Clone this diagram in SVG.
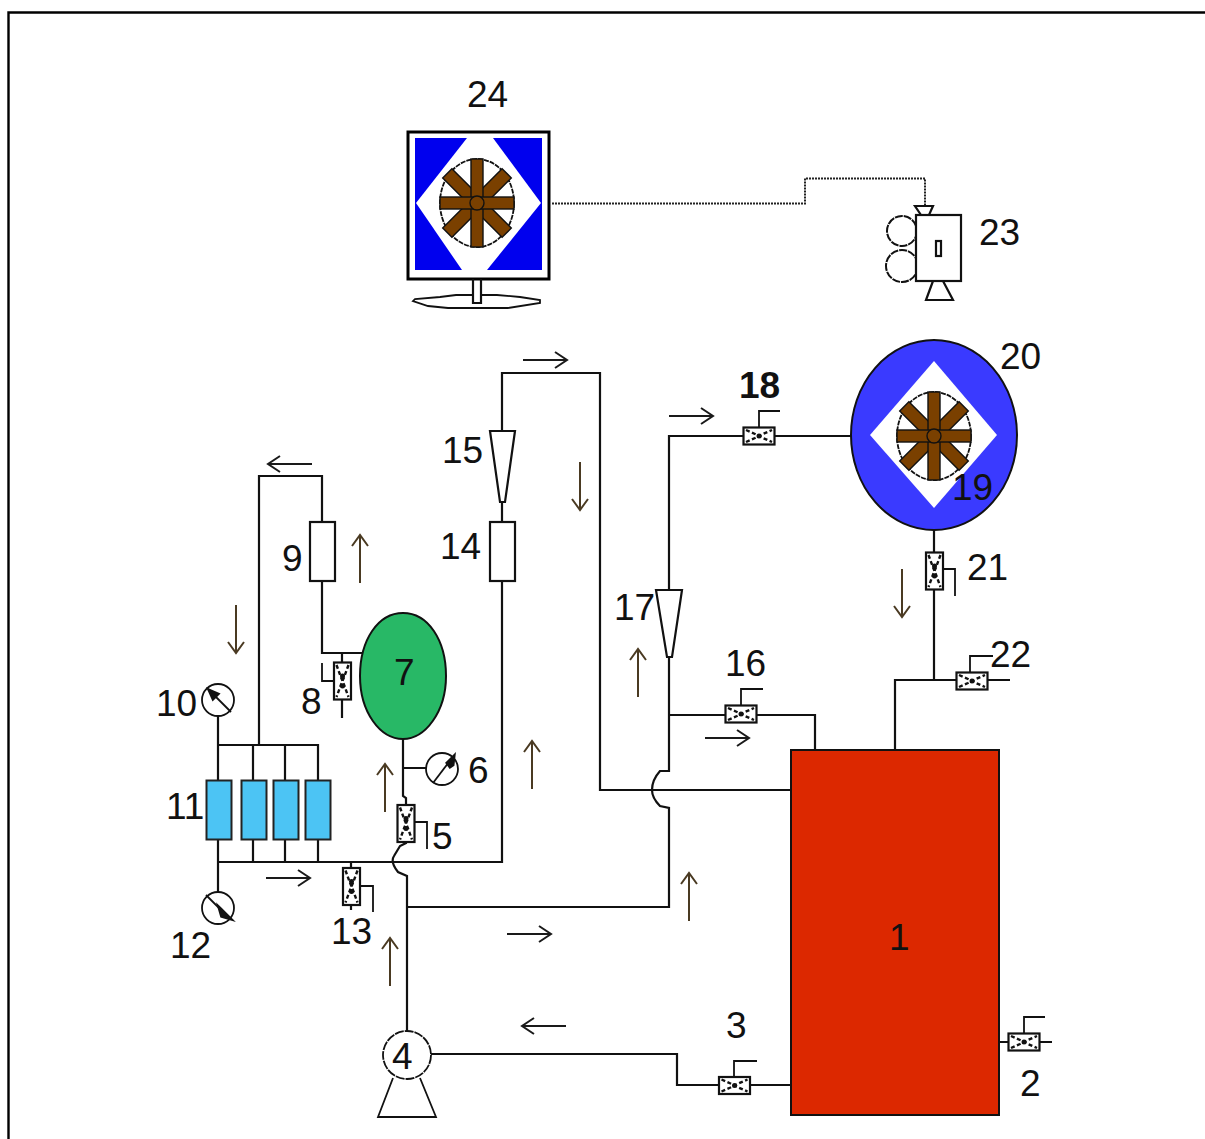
<svg xmlns="http://www.w3.org/2000/svg" width="1205" height="1139" viewBox="0 0 1205 1139">
<style>
.p{fill:none;stroke:#111;stroke-width:2.200}
.t{fill:none;stroke:#111;stroke-width:1.800}
.w{fill:#fff;stroke:#111;stroke-width:2.200}
.r{fill:#fff;stroke:#111;stroke-width:2;stroke-dasharray:8 1}
.a{fill:none;stroke:#1a1a1a;stroke-width:2}
.o{stroke:#4a3a22}
text{font-family:"Liberation Sans",Arial,sans-serif;font-size:37px;fill:#111}
.b{fill:#7a4000;stroke:#111;stroke-width:1.400}
</style>
<defs>
<g id="vh"><rect x="-15.500" y="-8.500" width="31" height="17" class="w"/><path d="M-13-6 L-4-2 L4 2 L13 6 M-13 6 L-4 2 L4-2 L13-6" fill="none" stroke="#111" stroke-width="2.400" stroke-dasharray="4 2.500"/><circle r="2.500" fill="#111"/></g>
<g id="vv"><rect x="-8.500" y="-18.500" width="17" height="37" class="w"/><path d="M-6-16 L-2-5 L2 5 L6 16 M6-16 L2-5 L-2 5 L-6 16" fill="none" stroke="#111" stroke-width="2.400" stroke-dasharray="4 2.500"/><circle cy="-5" r="2.500" fill="#111"/><circle cy="5" r="2.500" fill="#111"/></g>
<g id="wheel">
<ellipse rx="37" ry="44" fill="#fff" stroke="#111" stroke-width="1.800" stroke-dasharray="5 1"/>
<g class="b"><rect x="-6.500" y="-42" width="13" height="84" transform="rotate(45)"/><rect x="-6.500" y="-42" width="13" height="84" transform="rotate(-45)"/><rect x="-6" y="-44" width="12" height="88"/><rect x="-37" y="-6" width="74" height="12"/><circle r="7"/></g>
</g>
<path id="up" d="M0 48V0M-8 11L0 0L8 11"/>
<path id="rt" d="M0 0H44M32-8L44 0L32 8"/>
</defs>
<path id="frame" d="M8.500 1139V12.500H1205" fill="none" stroke="#000" stroke-width="2.400"/>
<g id="connectors">
<path class="p" d="M431 1054H677V1085H791"/>
<path class="p" d="M999 1042H1052"/>
<path class="p" d="M407 1031V876L398 872Q390 862 394 856L400 846L406 843V798L403 796V739"/>
<path class="p" d="M407 907H669V808L660 806Q652 798 652 790Q652 780 660 771H669V656"/>
<path class="p" d="M218 862H502V581M502 522V502M502 431V373H600V790H791"/>
<path class="p" d="M669 590V436H851"/>
<path class="p" d="M669 715H815V750"/>
<path class="p" d="M895 750V680H1010M934 680V530"/>
<path class="p" d="M218 716V780M218 745H318V780M253 745V780M285 745V780M259 745V476H322V522M322 581V653H363"/>
<path class="p" d="M218 839V892M253 839V862M285 839V862M318 839V862"/>
<path class="p" d="M342 653V718M351 862V910M403 768H427"/>
<path class="t" d="M734 1077V1061H757M1024 1034V1017H1045M741 705V689H763M759 428V411H780M970 672V656H993M943 569H955V596M427 849V822H414M334 681H322V663M360 886H373V912"/>
<path d="M552 203.500H805V178.500H925V206" fill="none" stroke="#222" stroke-width="2" stroke-dasharray="2 1"/>
</g>
<g id="arrows">
<use href="#rt" x="523" y="360" class="a"/><use href="#rt" x="669" y="416" class="a"/><use href="#rt" x="266" y="878" class="a"/><use href="#rt" x="507" y="934" class="a"/><use href="#rt" x="705" y="738" class="a"/>
<use href="#rt" transform="translate(312 464) scale(-1 1)" class="a"/><use href="#rt" transform="translate(566 1026) scale(-1 1)" class="a"/>
<use href="#up" x="360" y="535" class="a o"/><use href="#up" x="532" y="741" class="a o"/><use href="#up" x="385" y="764" class="a o"/><use href="#up" x="390" y="938" class="a o"/><use href="#up" x="689" y="873" class="a o"/><use href="#up" x="638" y="649" class="a o"/>
<use href="#up" transform="translate(580 510) scale(1 -1)" class="a o"/><use href="#up" transform="translate(236 653) scale(1 -1)" class="a o"/><use href="#up" transform="translate(902 617) scale(1 -1)" class="a o"/>
</g>
<g id="n24">
<rect x="408" y="132" width="141" height="147" fill="#fff" stroke="#000" stroke-width="3"/>
<rect x="415" y="138" width="127" height="132" fill="#0000ee"/>
<polygon points="467,138 493,138 541,203 487,270 462,270 416,203" fill="#fff"/>
<use href="#wheel" x="477" y="203"/>
<path class="p" d="M473 279V303H481V279"/>
<path class="t" d="M473 295H456L440 297L415 299L413 301L428 306L448 308H508L540 303V300L520 297L497 295H481"/>
<text x="467" y="107">24</text>
</g>
<g id="n23">
<circle cx="902" cy="231" r="15" class="r"/>
<circle cx="902" cy="266" r="16" class="r"/>
<rect x="916" y="215" width="45" height="66" class="w"/>
<rect x="936" y="241" width="5" height="15" class="w"/>
<path class="p" d="M915 206H933L929 215H921ZM933 281L926 300H953L943 281"/>
<text x="979" y="245">23</text>
</g>
<g id="n20">
<ellipse cx="934" cy="435" rx="83" ry="95" fill="#3a3aff" stroke="#111" stroke-width="2"/>
<polygon points="934,361 997,435 934,508 870,435" fill="#fff"/>
<use href="#wheel" x="934" y="436"/>
<text x="1000" y="369">20</text>
<text x="952" y="500" id="n19">19</text>
</g>
<g id="n18"><use href="#vh" x="759" y="436"/><text x="739" y="398" style="font-weight:bold">18</text></g>
<g id="n21"><use href="#vv" x="934.500" y="571"/><text x="967" y="580">21</text></g>
<g id="n22"><use href="#vh" x="972" y="681"/><text x="990" y="667">22</text></g>
<g id="n16"><use href="#vh" x="741" y="714"/><text x="725" y="676">16</text></g>
<g id="n17"><polygon points="656,590 682,590 672,657 667,657" class="w"/><text x="614" y="620">17</text></g>
<g id="n15"><polygon points="490,431 515,431 505,502 500,502" class="w"/><text x="442" y="463">15</text></g>
<g id="n14"><rect x="490" y="522" width="25" height="59" class="w"/><text x="440" y="559">14</text></g>
<g id="n9"><rect x="310" y="522" width="25" height="59" class="w"/><text x="282" y="571">9</text></g>
<g id="n7"><path d="M403 613C428 613 446 640 446 676C446 712 425 739 403 739C380 739 360 712 360 676C360 640 378 613 403 613Z" fill="#28b866" stroke="#111" stroke-width="2"/><text x="394" y="685">7</text></g>
<g id="n8"><use href="#vv" x="342.500" y="681"/><text x="301" y="714">8</text></g>
<g id="n6"><circle cx="442" cy="769" r="16" fill="#fff" class="t"/><path class="t" d="M433 783L452 758"/><path d="M447 763L454 756L453 765L450 767Z" fill="#111" stroke="#111" stroke-width="3"/><text x="468" y="783">6</text></g>
<g id="n5"><use href="#vv" x="406" y="823.500"/><text x="432" y="849">5</text></g>
<g id="n10"><circle cx="218" cy="700" r="16" fill="#fff" class="t"/><path class="t" d="M208 689L231 712"/><path d="M209 690L218 694L213 699Z" fill="#111" stroke="#111" stroke-width="3"/><text x="156" y="716">10</text></g>
<g id="n11">
<rect x="206.500" y="780.500" width="25" height="59" fill="#4cc4f4" stroke="#222" stroke-width="2"/>
<rect x="241.500" y="780.500" width="25" height="59" fill="#4cc4f4" stroke="#222" stroke-width="2"/>
<rect x="273.500" y="780.500" width="25" height="59" fill="#4cc4f4" stroke="#222" stroke-width="2"/>
<rect x="305.500" y="780.500" width="25" height="59" fill="#4cc4f4" stroke="#222" stroke-width="2"/>
<text x="166" y="819">11</text></g>
<g id="n12"><circle cx="218" cy="908" r="16" fill="#fff" class="t"/><path class="t" d="M206 895L230 919"/><path d="M220 909L229 918L222 916Z" fill="#111" stroke="#111" stroke-width="4"/><text x="170" y="958">12</text></g>
<g id="n13"><use href="#vv" x="351.500" y="886.500"/><text x="331" y="944">13</text></g>
<g id="n4"><circle cx="407" cy="1055" r="24" fill="#fff" class="t" stroke-dasharray="9 1"/><path class="t" d="M393 1078L378 1117H436L420 1078"/><text x="392" y="1069">4</text></g>
<g id="n3"><use href="#vh" x="734.500" y="1085.500"/><text x="726" y="1038">3</text></g>
<g id="n1"><rect x="791" y="750" width="208" height="365" fill="#dc2800" stroke="#111" stroke-width="2"/><text x="889" y="950">1</text></g>
<g id="n2"><use href="#vh" x="1024" y="1042"/><text x="1020" y="1096">2</text></g>
</svg>
